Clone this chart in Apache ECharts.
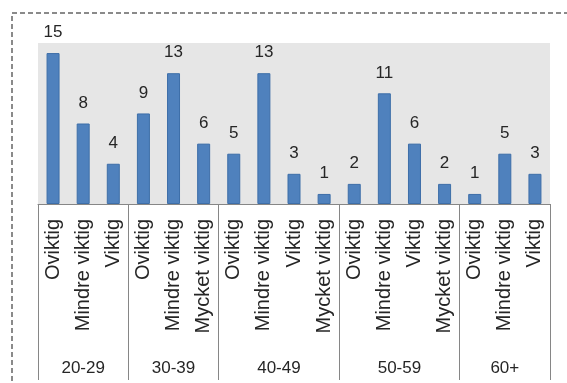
<!DOCTYPE html>
<html>
<head>
<meta charset="utf-8">
<script src="https://cdn.jsdelivr.net/npm/echarts@6/dist/echarts.min.js"></script>
<style>
  html, body { margin: 0; padding: 0; background: #ffffff; }
  #chart { width: 567px; height: 383px; }
</style>
</head>
<body>
<div id="chart"></div>
<script>
// Age groups and how many answers fall in each group
const ageGroups = ['20-29', '30-39', '40-49', '50-59', '60+'];
const groupSizes = [3, 3, 4, 4, 3];

// Answer category for every bar, in group order
const answerLabels = [
  'Oviktig', 'Mindre viktig', 'Viktig',
  'Oviktig', 'Mindre viktig', 'Mycket viktig',
  'Oviktig', 'Mindre viktig', 'Viktig', 'Mycket viktig',
  'Oviktig', 'Mindre viktig', 'Viktig', 'Mycket viktig',
  'Oviktig', 'Mindre viktig', 'Viktig'
];

// Number of respondents per bar
const counts = [15, 8, 4, 9, 13, 6, 5, 13, 3, 1, 2, 11, 6, 2, 1, 5, 3];

// Band indices where a new age group starts (plus the closing edge)
const boundaries = [0];
groupSizes.forEach(n => boundaries.push(boundaries[boundaries.length - 1] + n));

// Centre of every age group on a 0..N scale (N = number of bars)
const groupCentres = {};
ageGroups.forEach((g, i) => {
  groupCentres[(boundaries[i] + boundaries[i + 1]) / 2] = g;
});

const FONT = '"Liberation Sans", Arial, sans-serif';
const chart = echarts.init(document.getElementById('chart'), null, { renderer: 'canvas' });

chart.setOption({
  animation: false,
  backgroundColor: '#ffffff',
  graphic: [{
    type: 'rect',
    shape: { x: 12, y: 13, width: 600, height: 420 },
    style: { fill: 'none', stroke: '#8a8a8a', lineWidth: 2, lineDash: [5, 3] },
    silent: true,
    z: 0
  }],
  grid: {
    left: 38, right: 17, top: 43, bottom: 179,
    show: true, backgroundColor: '#e6e6e6', borderWidth: 0
  },
  xAxis: [{
    type: 'category',
    data: answerLabels,
    position: 'bottom',
    axisLine: { show: true, lineStyle: { color: '#868686', width: 1 } },
    axisTick: {
      show: true,
      length: 176,
      lineStyle: { color: '#868686', width: 1 },
      interval: function (index) { return boundaries.indexOf(index) !== -1; }
    },
    axisLabel: {
      interval: 0,
      rotate: 90,
      margin: 15,
      color: '#262626',
      fontFamily: FONT,
      fontSize: 20
    },
    splitLine: { show: false }
  }, {
    type: 'value',
    position: 'bottom',
    min: 0,
    max: answerLabels.length,
    interval: 0.5,
    axisLine: { show: false },
    axisTick: { show: false },
    splitLine: { show: false },
    axisLabel: {
      margin: 156,
      color: '#262626',
      fontFamily: FONT,
      fontSize: 17,
      showMinLabel: true,
      showMaxLabel: true,
      formatter: function (v) { return groupCentres[v] || ''; }
    }
  }],
  yAxis: {
    type: 'value',
    min: 0,
    max: 16,
    show: false,
    splitLine: { show: false }
  },
  series: [{
    type: 'bar',
    xAxisIndex: 0,
    data: counts,
    barWidth: 13,
    itemStyle: { color: '#4f81bd', borderColor: '#3d6ea8', borderWidth: 1 },
    label: {
      show: true,
      position: 'top',
      distance: 12,
      color: '#262626',
      fontFamily: FONT,
      fontSize: 17
    }
  }]
});
</script>
</body>
</html>
